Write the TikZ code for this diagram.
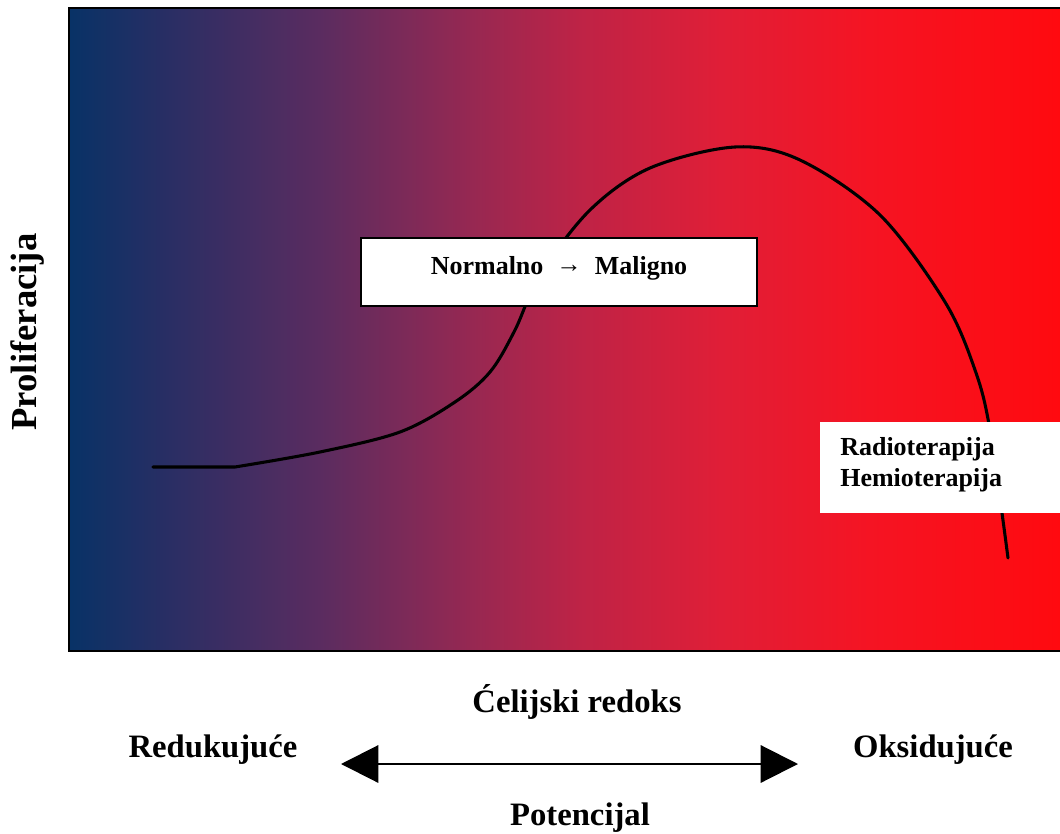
\documentclass[tikz,border=0pt]{standalone}
\usepackage{fontspec}
\setmainfont{Liberation Serif}
\usetikzlibrary{arrows.meta}
% redox colour ramp (the drawn area spans 25bp..75bp of the shading)
\pgfdeclarehorizontalshading{redox}{100bp}{%
  rgb(0bp)=(0.031,0.196,0.400);
  rgb(25bp)=(0.031,0.196,0.400);
  rgb(30.1bp)=(0.165,0.180,0.392);
  rgb(37.6bp)=(0.353,0.173,0.376);
  rgb(45.2bp)=(0.588,0.157,0.322);
  rgb(50.7bp)=(0.745,0.137,0.275);
  rgb(57.8bp)=(0.878,0.118,0.216);
  rgb(65.3bp)=(0.961,0.078,0.137);
  rgb(75bp)=(1.000,0.039,0.059);
  rgb(100bp)=(1.000,0.039,0.059)}
\tikzset{
  lbl/.style={font=\bfseries\fontsize{24.5}{28}\selectfont, inner sep=0pt},
  boxtxt/.style={font=\bfseries\fontsize{19.5}{23.5}\selectfont},
  curve/.style={line width=2.3pt, line join=round, line cap=round},
}
\begin{document}
\begin{tikzpicture}[x=0.75pt, y=-0.75pt]
\useasboundingbox (0,0) rectangle (1060,834);
% plot area with redox colour gradient
\shade[shading=redox, shading angle=0] (69,8) rectangle (1062,651);
\draw[line width=1.5pt] (1062,8) -- (69,8) -- (69,651) -- (1062,651);
% proliferation curve
\draw[curve] (153,467) -- (235,467)
  plot[smooth, tension=0.55] coordinates {(235,467) (320,452) (400,432) (455,402) (490,372) (515,330) (540,275) (590,210) (650,168) (735,147) (800,160) (880,215) (945,302) (975,370) (990,430) (1008,558)};
% labels inside the plot
\node[draw, line width=1.2pt, fill=white, minimum width=396*0.75pt, minimum height=68*0.75pt] (nm) at (559,272) {};
\node[boxtxt, inner sep=0pt] (nmtxt) at (559,268) {Normalno\ \ \raisebox{1.2pt}{\fontsize{19}{19}\selectfont →}\ \ Maligno};
\node[fill=white, minimum width=245*0.75pt, minimum height=91*0.75pt, inner sep=0pt] (rt) at (942.5,467.5) {};
\node[boxtxt, anchor=west, align=left, inner sep=0pt] (rtxt) at (840,465) {Radioterapija\\Hemioterapija};
% axis labels
\node[font=\bfseries\fontsize{27.5}{30}\selectfont, inner sep=0pt, rotate=90] (yl) at (27,332) {Proliferacija};
\node[lbl] (xl) at (577,702) {Ćelijski redoks};
\node[lbl] (red) at (213,750) {Redukujuće};
\node[lbl] (oks) at (933,750) {Oksidujuće};
\node[lbl] (pot) at (580,818) {Potencijal};
% redox potential arrow
\coordinate (al) at (341,764);
\coordinate (ar) at (798,764);
\draw[line width=1.6pt, {Triangle[length=28pt,width=28pt]}-{Triangle[length=28pt,width=28pt]}] (al) -- (ar);
\end{tikzpicture}
\end{document}
